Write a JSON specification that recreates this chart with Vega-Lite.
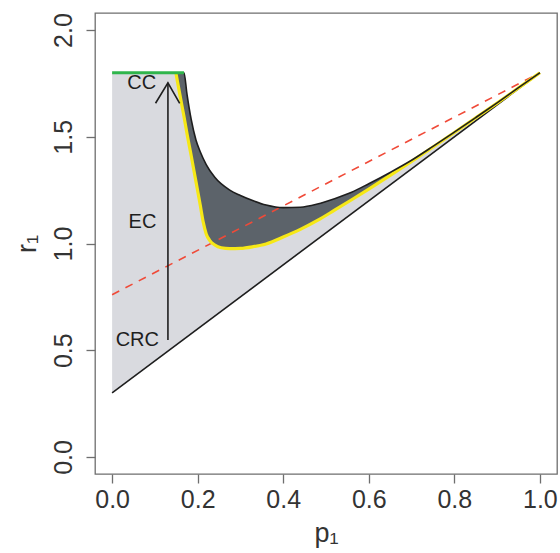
{
  "$schema": "https://vega.github.io/schema/vega-lite/v6.json",
  "width": 462,
  "height": 461,
  "autosize": {"type": "none"},
  "padding": {"left": 95, "top": 13, "right": 3, "bottom": 79},
  "background": "white",
  "config": {
    "view": {"stroke": "#6e6e6e", "strokeWidth": 1.3},
    "font": "Liberation Sans",
    "axis": {
      "domain": false,
      "grid": false,
      "tickColor": "#6e6e6e",
      "tickWidth": 1.3,
      "tickSize": 9,
      "labelFont": "Liberation Sans",
      "labelFontSize": 25,
      "labelColor": "#333333",
      "titleFont": "Liberation Sans",
      "titleFontSize": 27,
      "titleFontWeight": "normal",
      "titleColor": "#333333"
    }
  },
  "datasets": {
    "region": [
      {"p": 0.0, "lo": 0.3, "hi": 1.8},
      {"p": 0.168, "lo": 0.552, "hi": 1.8},
      {"p": 0.175, "lo": 0.5625, "hi": 1.7},
      {"p": 0.185, "lo": 0.5775, "hi": 1.58},
      {"p": 0.196, "lo": 0.594, "hi": 1.485},
      {"p": 0.206, "lo": 0.609, "hi": 1.43},
      {"p": 0.22, "lo": 0.63, "hi": 1.37},
      {"p": 0.24, "lo": 0.66, "hi": 1.31},
      {"p": 0.275, "lo": 0.7125, "hi": 1.25},
      {"p": 0.3, "lo": 0.75, "hi": 1.225},
      {"p": 0.33, "lo": 0.795, "hi": 1.2},
      {"p": 0.36, "lo": 0.84, "hi": 1.18},
      {"p": 0.4, "lo": 0.9, "hi": 1.168},
      {"p": 0.44, "lo": 0.96, "hi": 1.17},
      {"p": 0.48, "lo": 1.02, "hi": 1.185},
      {"p": 0.52, "lo": 1.08, "hi": 1.21},
      {"p": 0.56, "lo": 1.14, "hi": 1.24},
      {"p": 0.6, "lo": 1.2, "hi": 1.28},
      {"p": 0.65, "lo": 1.275, "hi": 1.333},
      {"p": 0.7, "lo": 1.35, "hi": 1.39},
      {"p": 0.75, "lo": 1.425, "hi": 1.455},
      {"p": 0.8, "lo": 1.5, "hi": 1.522},
      {"p": 0.85, "lo": 1.575, "hi": 1.59},
      {"p": 0.9, "lo": 1.65, "hi": 1.659},
      {"p": 0.95, "lo": 1.725, "hi": 1.73},
      {"p": 1.0, "lo": 1.8, "hi": 1.8}
    ],
    "band": [
      {"p": 0.149, "lo": 1.8, "hi": 1.8},
      {"p": 0.16, "lo": 1.68, "hi": 1.8},
      {"p": 0.168, "lo": 1.595, "hi": 1.8},
      {"p": 0.175, "lo": 1.515, "hi": 1.7},
      {"p": 0.185, "lo": 1.41, "hi": 1.58},
      {"p": 0.196, "lo": 1.29, "hi": 1.485},
      {"p": 0.206, "lo": 1.18, "hi": 1.43},
      {"p": 0.213, "lo": 1.1, "hi": 1.4},
      {"p": 0.22, "lo": 1.045, "hi": 1.37},
      {"p": 0.228, "lo": 1.015, "hi": 1.345},
      {"p": 0.24, "lo": 0.993, "hi": 1.31},
      {"p": 0.255, "lo": 0.98, "hi": 1.28},
      {"p": 0.275, "lo": 0.976, "hi": 1.25},
      {"p": 0.3, "lo": 0.977, "hi": 1.225},
      {"p": 0.33, "lo": 0.985, "hi": 1.2},
      {"p": 0.36, "lo": 0.998, "hi": 1.18},
      {"p": 0.4, "lo": 1.03, "hi": 1.168},
      {"p": 0.44, "lo": 1.066, "hi": 1.17},
      {"p": 0.48, "lo": 1.108, "hi": 1.185},
      {"p": 0.52, "lo": 1.156, "hi": 1.21},
      {"p": 0.56, "lo": 1.205, "hi": 1.24},
      {"p": 0.6, "lo": 1.255, "hi": 1.28},
      {"p": 0.65, "lo": 1.319, "hi": 1.333},
      {"p": 0.7, "lo": 1.385, "hi": 1.39},
      {"p": 0.75, "lo": 1.452, "hi": 1.455}
    ],
    "yellowCurve": [
      {"p": 0.149, "r": 1.8},
      {"p": 0.16, "r": 1.68},
      {"p": 0.168, "r": 1.595},
      {"p": 0.175, "r": 1.515},
      {"p": 0.185, "r": 1.41},
      {"p": 0.196, "r": 1.29},
      {"p": 0.206, "r": 1.18},
      {"p": 0.213, "r": 1.1},
      {"p": 0.22, "r": 1.045},
      {"p": 0.228, "r": 1.015},
      {"p": 0.24, "r": 0.993},
      {"p": 0.255, "r": 0.98},
      {"p": 0.275, "r": 0.976},
      {"p": 0.3, "r": 0.977},
      {"p": 0.33, "r": 0.985},
      {"p": 0.36, "r": 0.998},
      {"p": 0.4, "r": 1.03},
      {"p": 0.44, "r": 1.066},
      {"p": 0.48, "r": 1.108},
      {"p": 0.52, "r": 1.156},
      {"p": 0.56, "r": 1.205},
      {"p": 0.6, "r": 1.255},
      {"p": 0.65, "r": 1.319},
      {"p": 0.7, "r": 1.385},
      {"p": 0.75, "r": 1.452},
      {"p": 0.8, "r": 1.52},
      {"p": 0.85, "r": 1.589},
      {"p": 0.9, "r": 1.658},
      {"p": 0.95, "r": 1.729},
      {"p": 1.0, "r": 1.8}
    ],
    "upperCurve": [
      {"p": 0.16, "r": 1.8},
      {"p": 0.168, "r": 1.8},
      {"p": 0.175, "r": 1.7},
      {"p": 0.185, "r": 1.58},
      {"p": 0.196, "r": 1.485},
      {"p": 0.206, "r": 1.43},
      {"p": 0.22, "r": 1.37},
      {"p": 0.24, "r": 1.31},
      {"p": 0.275, "r": 1.25},
      {"p": 0.3, "r": 1.225},
      {"p": 0.33, "r": 1.2},
      {"p": 0.36, "r": 1.18},
      {"p": 0.4, "r": 1.168},
      {"p": 0.44, "r": 1.17},
      {"p": 0.48, "r": 1.185},
      {"p": 0.52, "r": 1.21},
      {"p": 0.56, "r": 1.24},
      {"p": 0.6, "r": 1.28},
      {"p": 0.65, "r": 1.333},
      {"p": 0.7, "r": 1.39},
      {"p": 0.75, "r": 1.455},
      {"p": 0.8, "r": 1.522},
      {"p": 0.85, "r": 1.59},
      {"p": 0.9, "r": 1.659},
      {"p": 0.95, "r": 1.73},
      {"p": 1.0, "r": 1.8}
    ],
    "lowerEdge": [
      {"p": 0.0, "r": 0.3},
      {"p": 1.0, "r": 1.8}
    ],
    "capLine": [
      {"p": 0.0, "r": 1.8},
      {"p": 0.168, "r": 1.8}
    ],
    "reference": [
      {"p": 0.0, "r": 0.76},
      {"p": 1.0, "r": 1.8}
    ],
    "shaft": [
      {"p": 0.1305, "r": 0.548, "r2": 1.753}
    ],
    "arrowHead": [
      {"k": 1, "p": 0.1015, "r": 1.657},
      {"k": 2, "p": 0.1305, "r": 1.753},
      {"k": 3, "p": 0.158, "r": 1.657}
    ],
    "labels": [
      {"p": 0.069, "r": 1.75, "label": "CC"},
      {"p": 0.071, "r": 1.1, "label": "EC"},
      {"p": 0.059, "r": 0.548, "label": "CRC"}
    ]
  },
  "layer": [
    {
      "data": {"name": "region"},
      "mark": {"type": "area", "color": "#d9dadf", "opacity": 1, "interpolate": "monotone"},
      "encoding": {
        "x": {
          "field": "p", "type": "quantitative",
          "scale": {"domain": [-0.04, 1.04], "nice": false, "zero": false},
          "axis": {"title": "p₁", "values": [0, 0.2, 0.4, 0.6, 0.8, 1.0], "format": ".1f", "labelPadding": 4, "titlePadding": 8}
        },
        "y": {
          "field": "lo", "type": "quantitative",
          "scale": {"domain": [-0.08, 2.08], "nice": false, "zero": false},
          "axis": {"title": "r₁", "values": [0, 0.5, 1.0, 1.5, 2.0], "format": ".1f", "labelAngle": -90, "labelAlign": "center", "labelBaseline": "bottom", "labelPadding": 10, "titlePadding": 10}
        },
        "y2": {"field": "hi"}
      }
    },
    {
      "data": {"name": "band"},
      "mark": {"type": "area", "color": "#5c636a", "opacity": 1, "interpolate": "monotone"},
      "encoding": {
        "x": {"field": "p", "type": "quantitative"},
        "y": {"field": "lo", "type": "quantitative"},
        "y2": {"field": "hi"}
      }
    },
    {
      "data": {"name": "lowerEdge"},
      "mark": {"type": "line", "color": "#1e1e1e", "strokeWidth": 1.6},
      "encoding": {
        "x": {"field": "p", "type": "quantitative"},
        "y": {"field": "r", "type": "quantitative"}
      }
    },
    {
      "data": {"name": "reference"},
      "mark": {"type": "line", "color": "#f04a38", "strokeWidth": 1.6, "strokeDash": [8, 7]},
      "encoding": {
        "x": {"field": "p", "type": "quantitative"},
        "y": {"field": "r", "type": "quantitative"}
      }
    },
    {
      "data": {"name": "yellowCurve"},
      "mark": {"type": "line", "color": "#f6e816", "strokeWidth": 3.2, "interpolate": "monotone"},
      "encoding": {
        "x": {"field": "p", "type": "quantitative"},
        "y": {"field": "r", "type": "quantitative"}
      }
    },
    {
      "data": {"name": "upperCurve"},
      "mark": {"type": "line", "color": "#1e1e1e", "strokeWidth": 1.6, "interpolate": "monotone"},
      "encoding": {
        "x": {"field": "p", "type": "quantitative"},
        "y": {"field": "r", "type": "quantitative"}
      }
    },
    {
      "data": {"name": "capLine"},
      "mark": {"type": "line", "color": "#2fb54b", "strokeWidth": 3},
      "encoding": {
        "x": {"field": "p", "type": "quantitative"},
        "y": {"field": "r", "type": "quantitative"}
      }
    },
    {
      "data": {"name": "shaft"},
      "mark": {"type": "rule", "color": "#1e1e1e", "strokeWidth": 1.6},
      "encoding": {
        "x": {"field": "p", "type": "quantitative"},
        "y": {"field": "r", "type": "quantitative"},
        "y2": {"field": "r2"}
      }
    },
    {
      "data": {"name": "arrowHead"},
      "mark": {"type": "line", "color": "#1e1e1e", "strokeWidth": 1.6},
      "encoding": {
        "x": {"field": "p", "type": "quantitative"},
        "y": {"field": "r", "type": "quantitative"},
        "order": {"field": "k"}
      }
    },
    {
      "data": {"name": "labels"},
      "mark": {"type": "text", "font": "Liberation Sans", "fontSize": 20, "color": "#1e1e1e", "align": "center", "baseline": "middle"},
      "encoding": {
        "x": {"field": "p", "type": "quantitative"},
        "y": {"field": "r", "type": "quantitative"},
        "text": {"field": "label"}
      }
    }
  ]
}
